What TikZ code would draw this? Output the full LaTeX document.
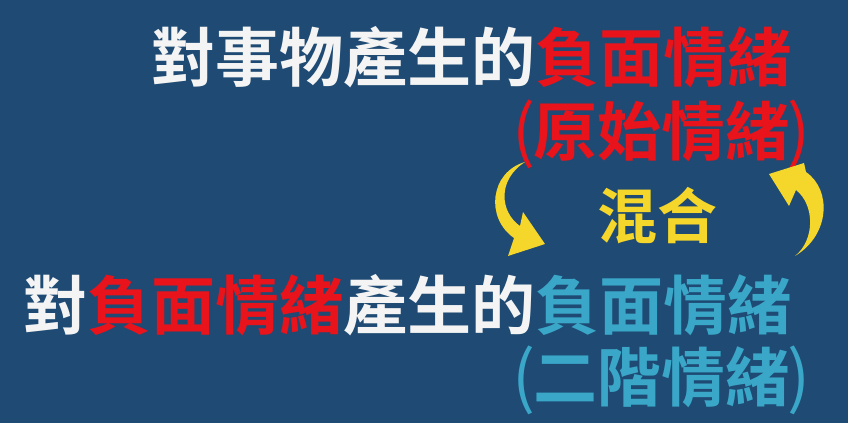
\documentclass[tikz,border=0pt]{standalone}
\usepackage{fontspec}
\newfontfamily\cjk{Noto Sans CJK TC}[BoldFont={* Bold}]
\definecolor{bgblue}{HTML}{1E4A73}
\definecolor{txtred}{HTML}{E8131B}
\definecolor{txtblue}{HTML}{3AA7C9}
\definecolor{txtyellow}{HTML}{F5D62A}
\definecolor{txtwhite}{HTML}{F4F4F4}
\newcommand{\thinparen}[1]{{\mdseries\fontsize{68}{68}\selectfont #1}}
\tikzset{
  line/.style={inner sep=0pt, anchor=east, font=\cjk\bfseries\fontsize{64}{64}\selectfont},
  mixlabel/.style={inner sep=0pt, font=\cjk\bfseries\fontsize{60}{60}\selectfont, text=txtyellow},
  curvearrow/.style={fill=txtyellow, draw=none}
}
\begin{document}
\begin{tikzpicture}[x=1pt,y=-1pt]
\fill[bgblue] (0,0) rectangle (848,423);
\useasboundingbox (0,0) rectangle (848,423);
\node[line] (l1) at (792,57) {\textcolor{txtwhite}{對事物產生的}\textcolor{txtred}{負面情緒}};
\node[line, text=txtred] (l2) at (811,134) {\thinparen{(}\kern-2pt 原始情緒\kern-2pt\thinparen{)}};
\node[mixlabel] (mix) at (657,216) {混合};
\node[line] (l3) at (792,305) {\textcolor{txtwhite}{對}\textcolor{txtred}{負面情緒}\textcolor{txtwhite}{產生的}\textcolor{txtblue}{負面情緒}};
\node[line, text=txtblue] (l4) at (811,380) {\thinparen{(}\kern-2pt 二階情緒\kern-2pt\thinparen{)}};
% left arrow (down)
\fill[curvearrow] (525,162) .. controls (490,172) and (485,218) .. (514,238)
  -- (508,256) -- (545,244) -- (523,212) -- (520,226)
  .. controls (500,212) and (497,180) .. (525,162) -- cycle;
% right arrow (up)
\fill[curvearrow] (795,256) .. controls (830,235) and (832,190) .. (806,172)
  -- (804,163) -- (769,174) -- (789,206) -- (796,190)
  .. controls (815,205) and (815,240) .. (795,256) -- cycle;
\end{tikzpicture}
\end{document}
